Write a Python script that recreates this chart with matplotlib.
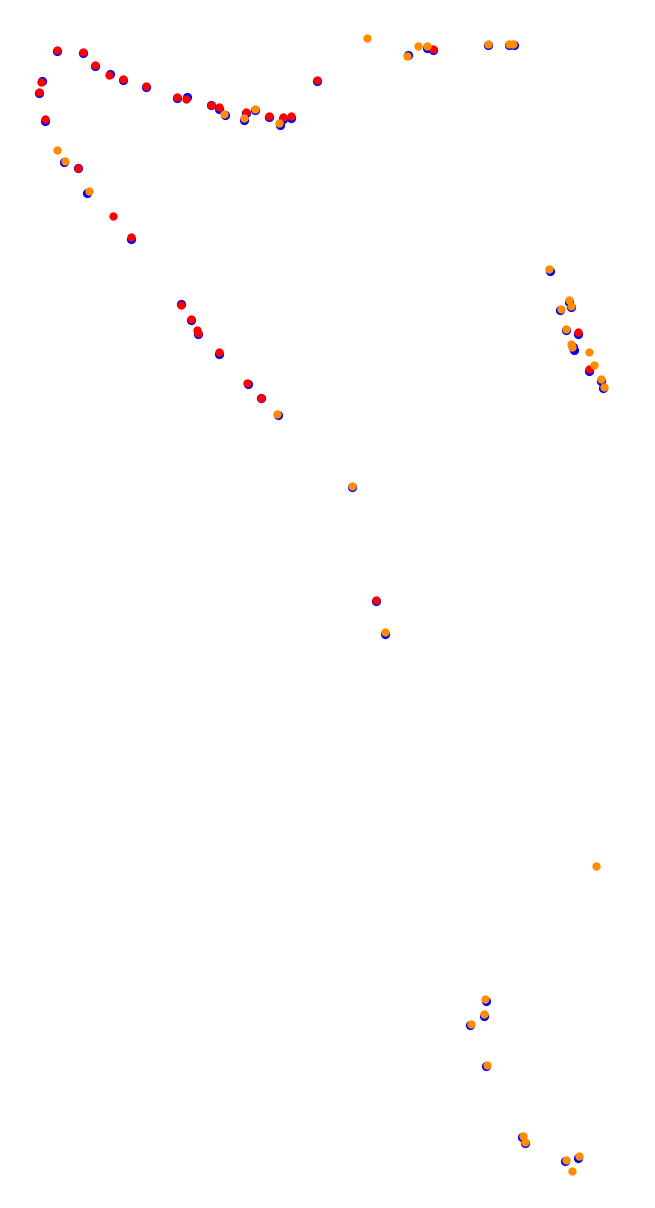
import matplotlib
matplotlib.use("Agg")
import matplotlib.pyplot as plt

# Blue (base) points
blue_x = [57, 83, 95, 110, 123, 146, 177, 187, 211, 219, 225, 246, 255, 244, 269, 280, 283, 291, 317,
          42, 39, 45, 64, 78, 87, 131, 181, 191, 198, 219, 248, 261, 278,
          408, 427, 433, 488, 509, 514,
          550, 569, 571, 560, 566, 578, 573, 574, 589, 601, 603,
          352, 376, 385,
          486, 484, 470, 486, 522, 525, 565, 578]
blue_y = [51, 53, 66, 74, 80, 87, 98, 97, 105, 109, 115, 113, 110, 120, 117, 125, 119, 118, 81,
          81, 93, 121, 162, 168, 193, 239, 304, 320, 334, 354, 384, 398, 415,
          55, 48, 50, 45, 45, 45,
          271, 302, 307, 310, 330, 334, 347, 350, 371, 381, 388,
          487, 601, 634,
          1001, 1016, 1025, 1066, 1137, 1143, 1161, 1158]

# Red points
red_x = [57, 83, 95, 109, 123, 146, 177, 186, 211, 219, 246, 269, 283, 291, 317,
         41, 39, 45, 78, 113, 131, 181, 191, 197, 198, 219, 247, 261,
         433, 578, 589, 376]
red_y = [50, 52, 65, 75, 79, 86, 97, 99, 105, 107, 112, 116, 117, 116, 80,
         82, 92, 119, 168, 216, 237, 305, 319, 330, 333, 352, 383, 398,
         49, 332, 369, 600]

# Orange points
orange_x = [224, 255, 244, 279, 57, 65, 89, 277,
            367, 407, 418, 427, 488, 509, 513,
            549, 569, 571, 561, 566, 571, 572, 589, 594, 601, 604,
            352, 385,
            596, 485, 484, 471, 487, 523, 525, 566, 579, 572]
orange_y = [114, 109, 118, 123, 150, 161, 191, 414,
            38, 56, 46, 46, 44, 44, 44,
            269, 300, 306, 309, 329, 344, 347, 352, 365, 379, 387,
            486, 632,
            866, 999, 1014, 1024, 1065, 1136, 1142, 1160, 1156, 1171]

fig = plt.figure(figsize=(6.55, 12.08), dpi=100)
ax = fig.add_axes([0, 0, 1, 1])
ax.scatter(blue_x, blue_y, s=44, c="#0000ff", linewidths=0, zorder=2)
ax.scatter(red_x, red_y, s=36, c="#ff0000", linewidths=0, zorder=3)
ax.scatter(orange_x, orange_y, s=36, c="#ff8c00", linewidths=0, zorder=4)
ax.set_xlim(0, 655)
ax.set_ylim(1208, 0)
ax.axis("off")
fig.savefig("out.png", dpi=100, facecolor="white")
